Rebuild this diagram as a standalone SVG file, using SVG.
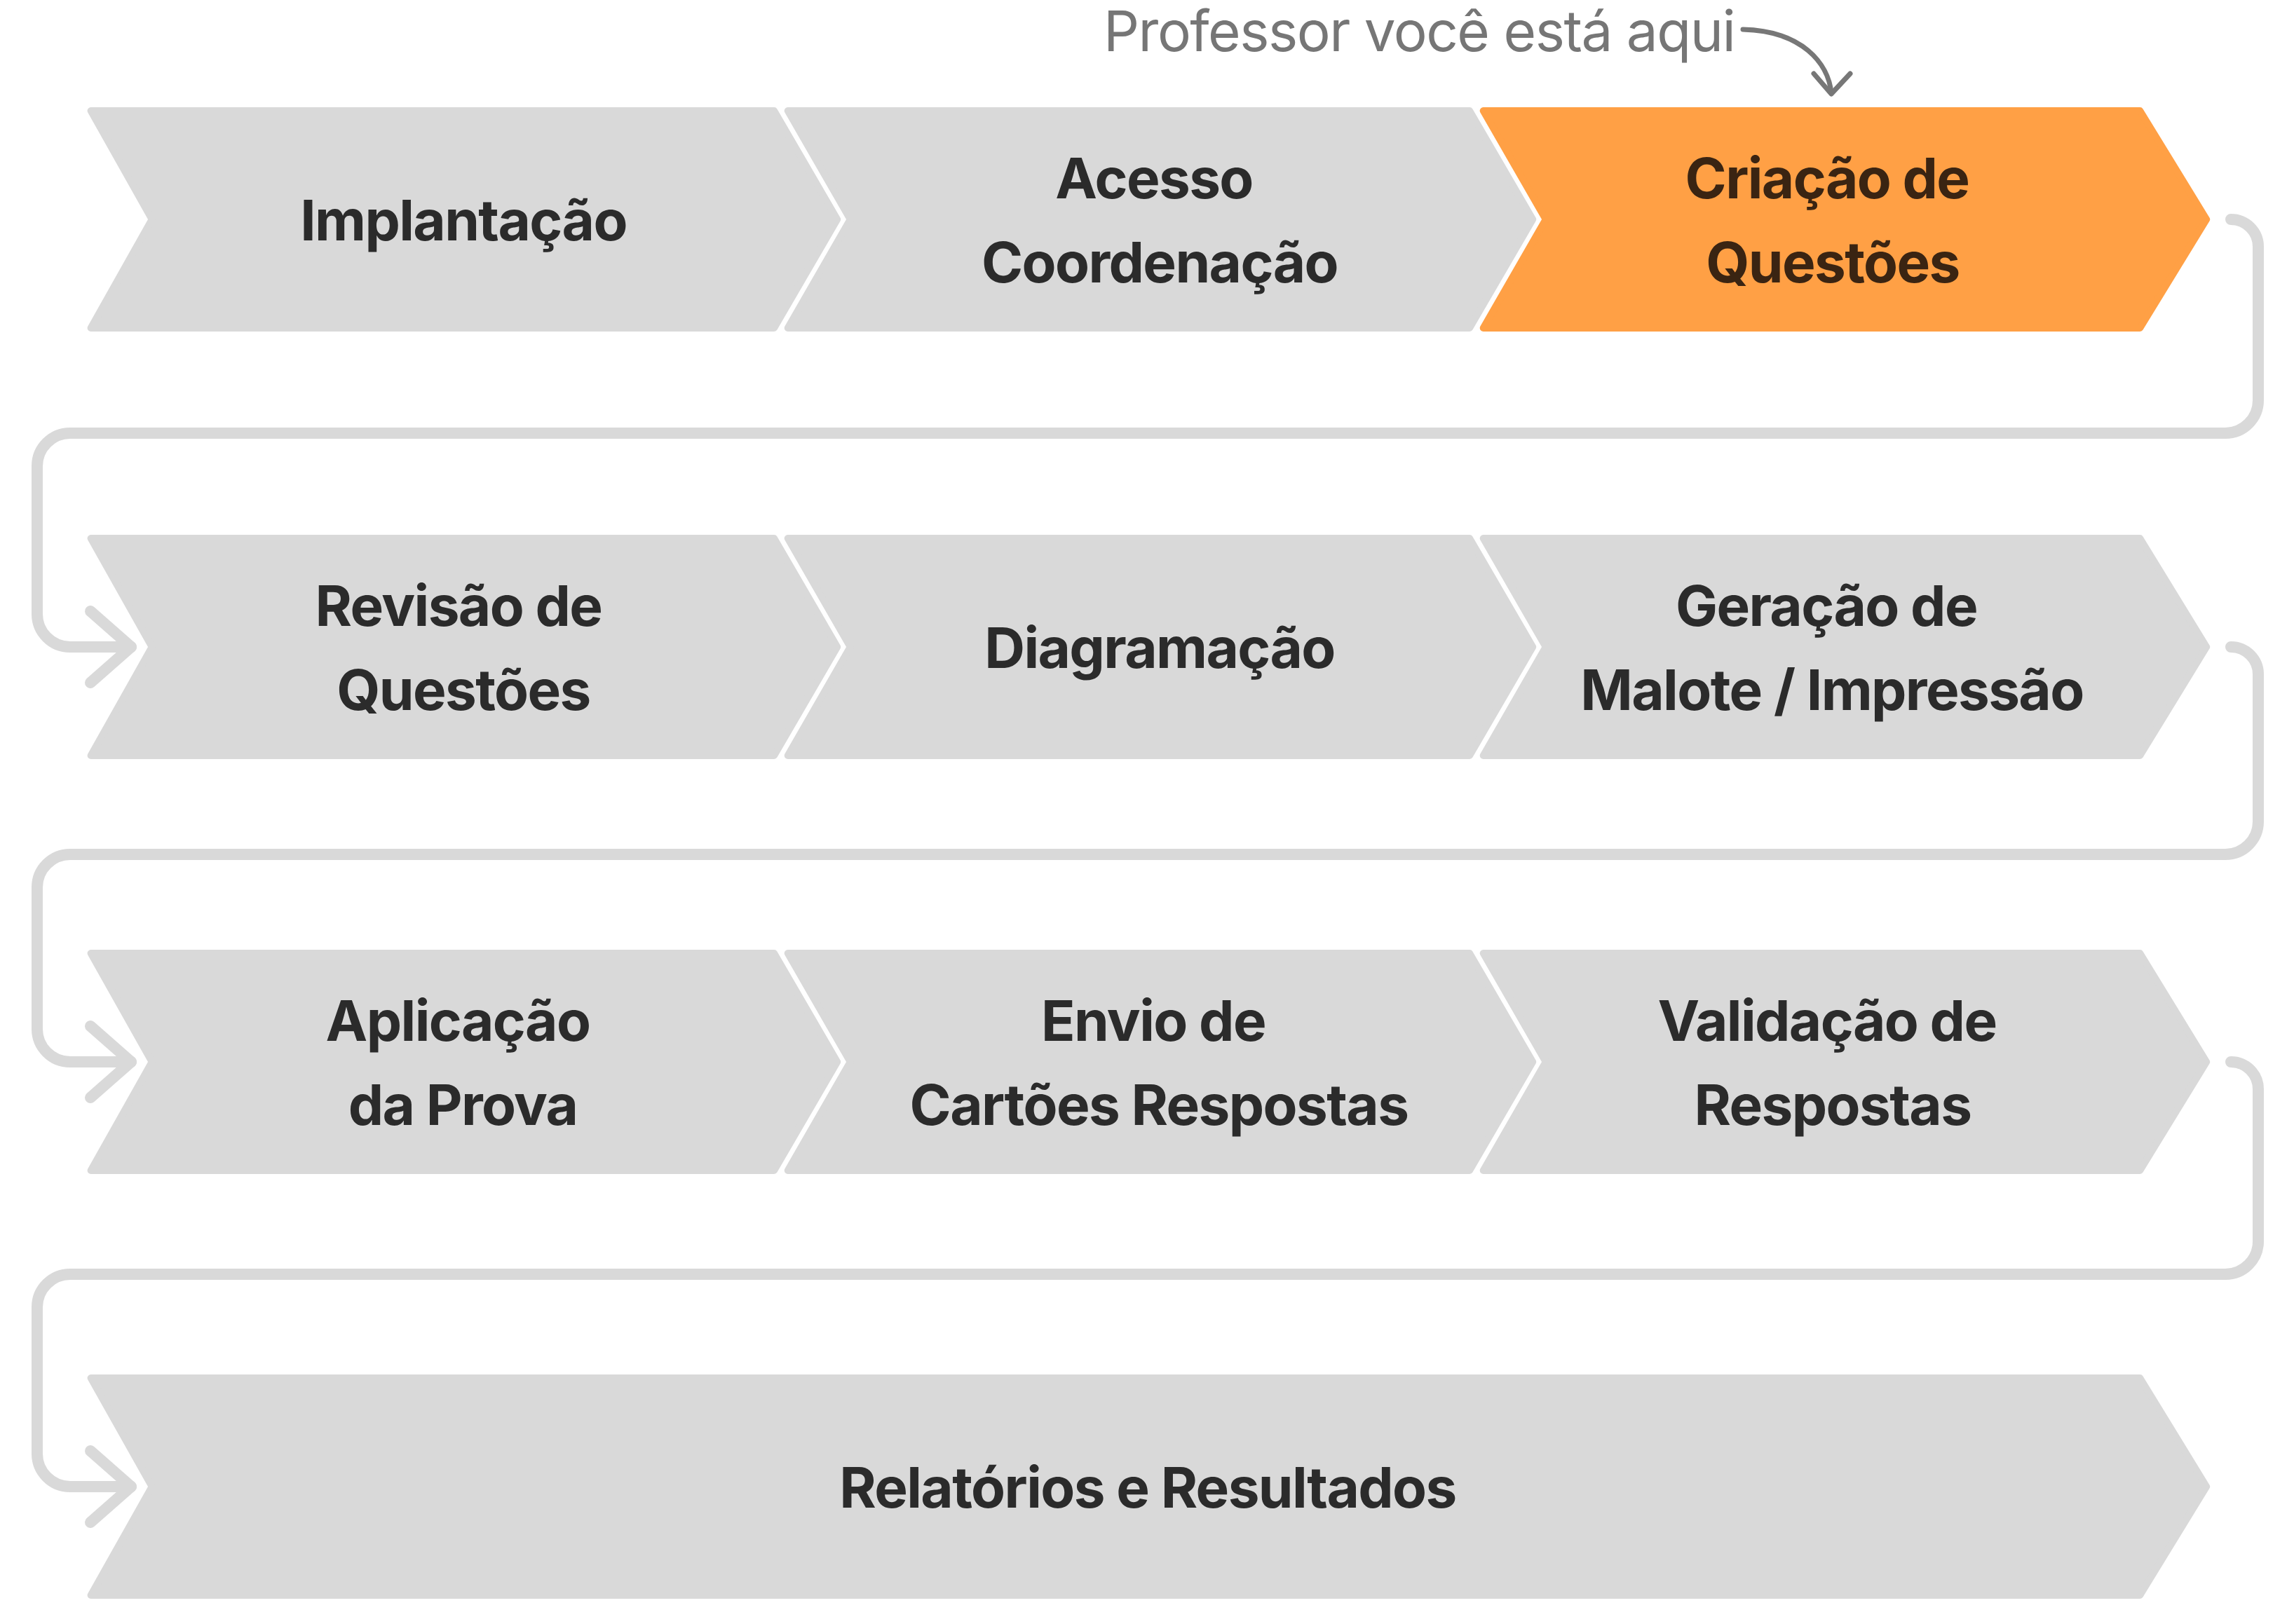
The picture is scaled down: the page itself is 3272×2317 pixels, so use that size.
<svg xmlns="http://www.w3.org/2000/svg" width="3272" height="2317" viewBox="0 0 3272 2317">
<style>
.chev{fill:#d9d9d9;stroke:#d9d9d9;stroke-width:10;stroke-linejoin:round}
.chev.on{fill:#ffa045;stroke:#ffa045}
.lbl{font-family:Inter,"Noto Sans","Liberation Sans",sans-serif;font-weight:700;font-size:80px;letter-spacing:-1.6px;fill:#2b2b2b;text-anchor:middle}
.lbl.on{fill:#3a2412}
.note{font-family:Inter,"Noto Sans","Liberation Sans",sans-serif;font-weight:400;font-size:80px;letter-spacing:-1.5px;fill:#767676}
.conn{fill:none;stroke:#d9d9d9;stroke-width:16;stroke-linecap:round;stroke-linejoin:round}
.here{fill:none;stroke:#777777;stroke-width:7;stroke-linecap:round;stroke-linejoin:round}
</style>
<rect width="3272" height="2317" fill="#ffffff"/>

<g id="connectors">
<path class="conn" d="M3182 313 A39 39 0 0 1 3221 352 V571 A47 47 0 0 1 3174 618 H100 A47 47 0 0 0 53 665 V876 A47 47 0 0 0 100 923 H187"/>
<path class="conn" d="M129 872 L187 923 L129 974"/>
<path class="conn" d="M3182 923 A39 39 0 0 1 3221 962 V1172 A47 47 0 0 1 3174 1219 H100 A47 47 0 0 0 53 1266 V1468 A47 47 0 0 0 100 1515 H187"/>
<path class="conn" d="M129 1464 L187 1515 L129 1566"/>
<path class="conn" d="M3182 1515 A39 39 0 0 1 3221 1554 V1771 A47 47 0 0 1 3174 1818 H100 A47 47 0 0 0 53 1865 V2074 A47 47 0 0 0 100 2121 H187"/>
<path class="conn" d="M129 2070 L187 2121 L129 2172"/>
</g>

<g id="you-are-here">
<text class="note" x="1574" y="73">Professor você está aqui</text>
<path class="here" d="M2486 42 C2570 44 2608 90 2612 133"/>
<path class="here" d="M2587 105 L2612 134 L2639 105"/>
</g>

<g id="node-implantacao" transform="translate(0,153)">
<polygon class="chev" points="129.6,5 1104.1,5 1194.2,160 1104.1,315 129.6,315 216.8,160"/>
<text class="lbl" x="661" y="190">Implantação</text>
</g>
<g id="node-acesso" transform="translate(0,153)">
<polygon class="chev" points="1123.7,5 2096.1,5 2186.2,160 2096.1,315 1123.7,315 1212.8,160"/>
<text class="lbl" x="1646" y="130">Acesso</text>
<text class="lbl" x="1654" y="250">Coordenação</text>
</g>
<g id="node-criacao" transform="translate(0,153)">
<polygon class="chev on" points="2115.7,5 3052.3,5 3147.2,160 3052.3,315 2115.7,315 2204.8,160"/>
<text class="lbl on" x="2606" y="130">Criação de</text>
<text class="lbl on" x="2614" y="250">Questões</text>
</g>

<g id="node-revisao" transform="translate(0,763)">
<polygon class="chev" points="129.6,5 1104.1,5 1194.2,160 1104.1,315 129.6,315 216.8,160"/>
<text class="lbl" x="654" y="130">Revisão de</text>
<text class="lbl" x="661" y="250">Questões</text>
</g>
<g id="node-diagramacao" transform="translate(0,763)">
<polygon class="chev" points="1123.7,5 2096.1,5 2186.2,160 2096.1,315 1123.7,315 1212.8,160"/>
<text class="lbl" x="1654" y="190">Diagramação</text>
</g>
<g id="node-geracao" transform="translate(0,763)">
<polygon class="chev" points="2115.7,5 3052.3,5 3147.2,160 3052.3,315 2115.7,315 2204.8,160"/>
<text class="lbl" x="2605" y="130">Geração de</text>
<text class="lbl" x="2613" y="250">Malote / Impressão</text>
</g>

<g id="node-aplicacao" transform="translate(0,1355)">
<polygon class="chev" points="129.6,5 1104.1,5 1194.2,160 1104.1,315 129.6,315 216.8,160"/>
<text class="lbl" x="653" y="130">Aplicação</text>
<text class="lbl" x="660" y="250">da Prova</text>
</g>
<g id="node-envio" transform="translate(0,1355)">
<polygon class="chev" points="1123.7,5 2096.1,5 2186.2,160 2096.1,315 1123.7,315 1212.8,160"/>
<text class="lbl" x="1645" y="130">Envio de</text>
<text class="lbl" x="1653" y="250">Cartões Respostas</text>
</g>
<g id="node-validacao" transform="translate(0,1355)">
<polygon class="chev" points="2115.7,5 3052.3,5 3147.2,160 3052.3,315 2115.7,315 2204.8,160"/>
<text class="lbl" x="2606" y="130">Validação de</text>
<text class="lbl" x="2614" y="250">Respostas</text>
</g>

<g id="node-relatorios" transform="translate(0,1961)">
<polygon class="chev" points="129.6,5 3052.3,5 3147.2,160 3052.3,315 129.6,315 216.8,160"/>
<text class="lbl" x="1637" y="190">Relatórios e Resultados</text>
</g>
</svg>
